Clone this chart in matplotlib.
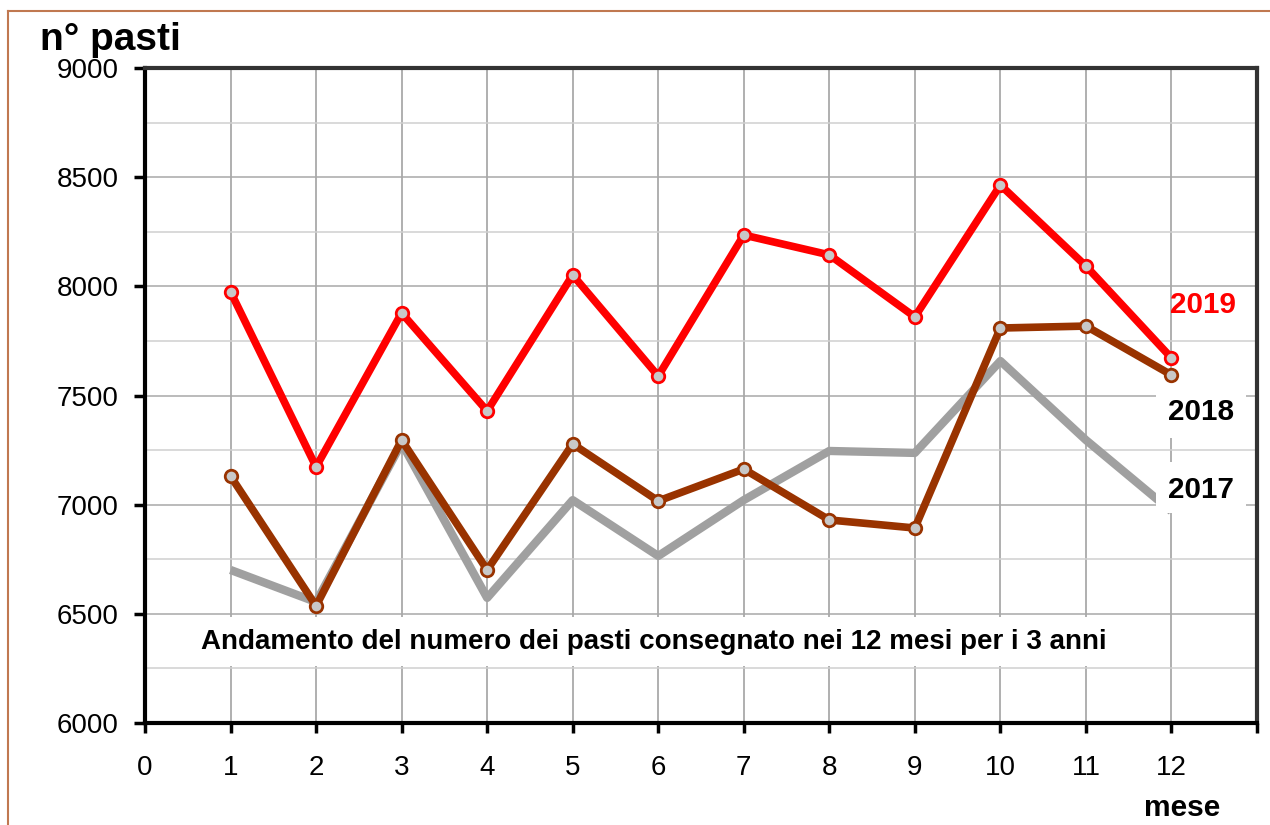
import numpy as np
import matplotlib
matplotlib.use('Agg')
import matplotlib.pyplot as plt
from matplotlib.patches import Rectangle
from matplotlib.lines import Line2D
from matplotlib.ticker import MultipleLocator

plt.rcParams['font.family'] = ['Liberation Sans', 'DejaVu Sans']

# Data
mesi = [1, 2, 3, 4, 5, 6, 7, 8, 9, 10, 11, 12]
pasti_2019 = [7975, 7173, 7878, 7429, 8052, 7589, 8235, 8144, 7860, 8464, 8093, 7672]
pasti_2018 = [7131, 6536, 7296, 6701, 7278, 7017, 7163, 6930, 6893, 7809, 7818, 7594]
pasti_2017 = [6701, 6554, 7282, 6573, 7021, 6765, 7021, 7246, 7237, 7658, 7296, 6970]
anni = ['2019', '2018', '2017']
colori = ['#FF0000', '#993300', '#A0A0A0']
titolo = 'Andamento del numero dei pasti consegnato nei 12 mesi per i 3 anni'

fig = plt.figure(figsize=(12.7, 8.25), dpi=100)
ax = fig.add_axes([145/1270, 1 - 723/825, (1257-145)/1270, (723-68)/825])

ax.set_xlim(0, 13)
ax.set_ylim(6000, 9000)
ax.set_xticks(range(0, 14))
ax.set_xticklabels([str(i) for i in range(0, 13)] + [''])
ax.yaxis.set_major_locator(MultipleLocator(500))
ax.yaxis.set_minor_locator(MultipleLocator(250))

# grid
for x in range(1, 13):
    ax.axvline(x, color='#9a9a9a', lw=1.1, zorder=0.5)
ax.grid(axis='y', which='major', color='#a8a8a8', lw=1.1, zorder=0.5)
ax.grid(axis='y', which='minor', color='#d0d0d0', lw=1.1, zorder=0.5)
ax.set_axisbelow(True)

mk = dict(marker='o', markersize=9, markerfacecolor='#C8C8C8', markeredgewidth=2)
ax.plot(mesi, pasti_2017, color=colori[2], lw=6, zorder=2, solid_capstyle='butt')
ax.plot(mesi, pasti_2018, color=colori[1], lw=5.5, zorder=4, markeredgecolor=colori[1], **mk)
ax.plot(mesi, pasti_2019, color=colori[0], lw=5.5, zorder=5, markeredgecolor=colori[0], **mk)

# white boxes behind labels
ax.add_patch(Rectangle((0.58, 6262), 10.74, 225, facecolor='white', edgecolor='none', zorder=3))
ax.add_patch(Rectangle((11.82, 7305), 1.05, 252, facecolor='white', edgecolor='none', zorder=3))
ax.add_patch(Rectangle((11.82, 6962), 1.05, 233, facecolor='white', edgecolor='none', zorder=3))

ax.text(5.95, 6371, titolo, ha='center', va='center', fontsize=20, fontweight='bold', zorder=6)
ax.text(12.37, 7915, anni[0], ha='center', va='center', fontsize=21.3, fontweight='bold', color=colori[0], zorder=6)
ax.text(12.35, 7424, anni[1], ha='center', va='center', fontsize=21.3, fontweight='bold', color='black', zorder=6)
ax.text(12.35, 7067, anni[2], ha='center', va='center', fontsize=21.3, fontweight='bold', color='black', zorder=6)

# spines and ticks
ax.spines['left'].set_color('black')
ax.spines['bottom'].set_color('black')
ax.spines['left'].set_linewidth(3)
ax.spines['bottom'].set_linewidth(3)
ax.spines['top'].set_color('#333333')
ax.spines['right'].set_color('#333333')
ax.spines['top'].set_linewidth(3)
ax.spines['right'].set_linewidth(3)
ax.tick_params(axis='y', which='major', direction='out', length=8, width=2.5, pad=11, labelsize=20)
ax.tick_params(axis='y', which='minor', length=0)
ax.tick_params(axis='x', direction='out', length=7, width=2.5, pad=16, labelsize=20)

fig.text(40/1270, 1 - 50/825, 'n° pasti', ha='left', va='baseline', fontsize=28, fontweight='bold')
fig.text(1220/1270, 1 - 808/825, 'mese', ha='right', va='center', fontsize=21.5, fontweight='bold')

# outer frame (left and top edges)
fig.add_artist(Line2D([8/1270, 8/1270], [0, 1 - 11/825], color='#C07850', lw=1.5))
fig.add_artist(Line2D([8/1270, 1], [1 - 11/825, 1 - 11/825], color='#C07850', lw=1.5))

fig.savefig('out.png', dpi=100)
